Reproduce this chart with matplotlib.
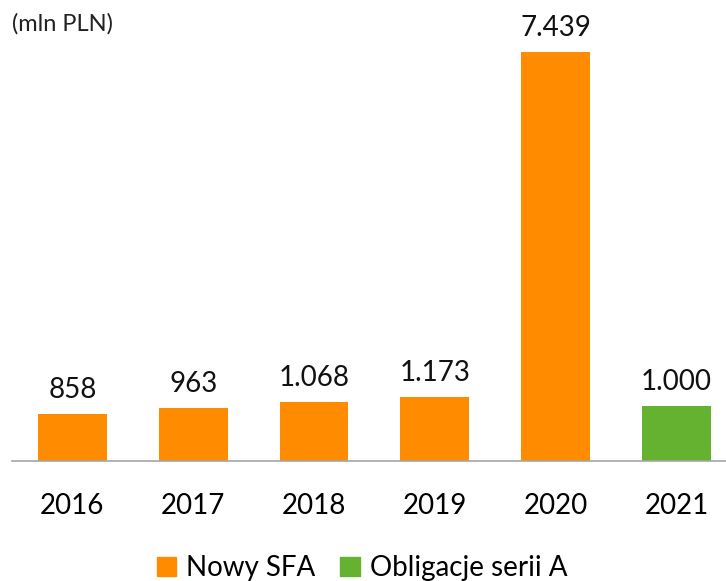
import matplotlib.pyplot as plt
from matplotlib.patches import Patch

plt.rcParams['font.family'] = ['Lato', 'DejaVu Sans']

years = ['2016', '2017', '2018', '2019', '2020', '2021']
values = [858, 963, 1068, 1173, 7439, 1000]
labels = ['858', '963', '1.068', '1.173', '7.439', '1.000']
series = ['Nowy SFA', 'Nowy SFA', 'Nowy SFA', 'Nowy SFA', 'Nowy SFA', 'Obligacje serii A']

orange = '#FF8C00'
green = '#64B22F'
colors = {'Nowy SFA': orange, 'Obligacje serii A': green}

fig = plt.figure(figsize=(7.26, 5.81), dpi=100)
ax = fig.add_axes([12 / 726, 120 / 581, 714 / 726, 461 / 581])

x = list(range(len(years)))
ax.bar(x, values, width=0.57, color=[colors[s] for s in series])

for xi, v, lab in zip(x, values, labels):
    ax.annotate(lab, (xi, v), xytext=(0, 24), textcoords='offset pixels',
                ha='center', va='center', fontsize=20, color='#111111')

ax.set_xlim(-0.5, 5.41)
ax.set_ylim(0, 8385)
ax.set_xticks(x)
ax.set_xticklabels(years, fontsize=20)
ax.tick_params(axis='x', length=0, pad=23)
ax.set_yticks([])
for s in ['top', 'right', 'left']:
    ax.spines[s].set_visible(False)
ax.spines['bottom'].set_color('#A6A6A6')
ax.spines['bottom'].set_linewidth(1.2)

fig.text(12 / 726, 1 - 24 / 581, '(mln PLN)', fontsize=17, va='center', ha='left', color='#222222')

handles = [Patch(color=orange, label='Nowy SFA'), Patch(color=green, label='Obligacje serii A')]
fig.legend(handles=handles, loc='center', bbox_to_anchor=(362 / 726, 1 - 568 / 581), ncol=2,
           frameon=False, fontsize=20, handlelength=0.7, handleheight=0.7,
           handletextpad=0.35, columnspacing=0.9)

fig.savefig('out.png', dpi=100)
